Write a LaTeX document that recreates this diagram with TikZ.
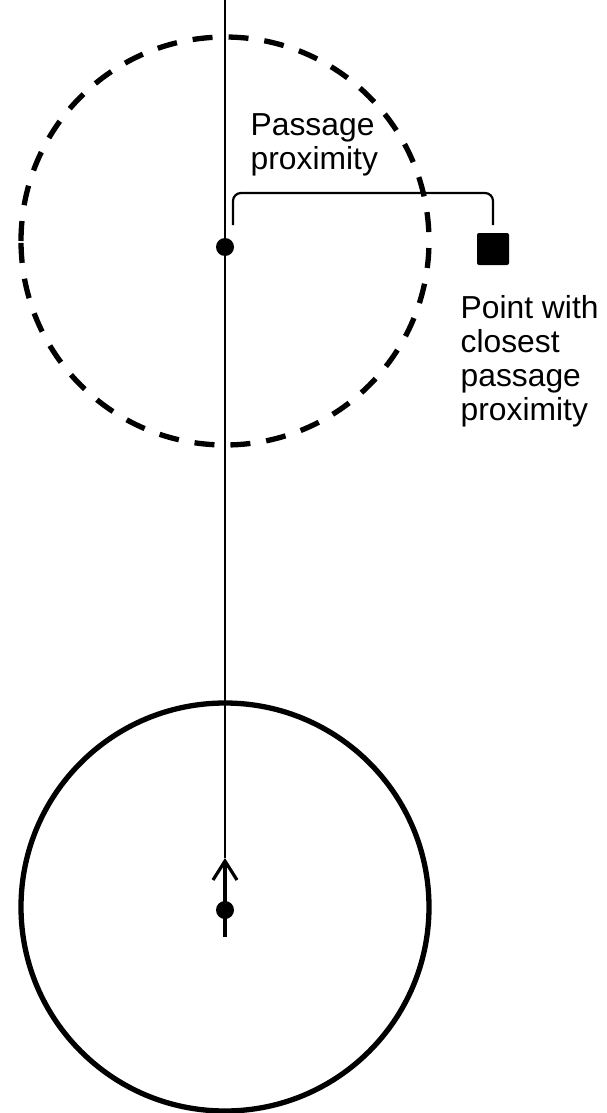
\documentclass[tikz,border=0pt]{standalone}
\usepackage{fontspec}
\setmainfont{Liberation Sans}
\usetikzlibrary{arrows.meta}
\tikzset{lbl/.style={anchor=north west,inner sep=0pt,align=left}}
\begin{document}
\begin{tikzpicture}[x=1pt,y=1pt,line join=round,font=\fontsize{31.8}{34}\selectfont]
\useasboundingbox (0,0) rectangle (607,-1113);
\path
(225,0) coordinate (T)
(225,-247) coordinate (P)
(225,-241) coordinate (C1)
(225,-907) coordinate (C2)
(225,-910) coordinate (S)
(225,-858) coordinate (H)
(225,-937) coordinate (E)
(233,-225) coordinate (L)
(493,-225) coordinate (R)
;
% zones
\draw[line width=5.3pt,dash pattern=on 20pt off 16pt] (C1) ++(-204,0) arc[start angle=180,end angle=-180,radius=204];
\draw[line width=5.3pt] (C2) circle[radius=204];
% path and heading
\draw[line width=2pt] (T)--(H);
\draw[line width=3.8pt,-{Straight Barb[length=19pt,width=24pt,line width=3.2pt]}] (E)--(H);
% proximity bracket
\draw[line width=2.2pt,rounded corners=8pt] (L)--++(0,32)-|(R);
\node[fill,minimum size=32pt,inner sep=0pt,rounded corners=2pt] (Q) at (493,-249) {};
\foreach \x in {P,S}
\fill (\x) circle(9pt);
\node[lbl] (prox) at (250.5,-113) {Passage\\proximity};
\node[lbl] (closest) at (460.5,-295) {Point with\\closest\\passage\\proximity};
\end{tikzpicture}
\end{document}
